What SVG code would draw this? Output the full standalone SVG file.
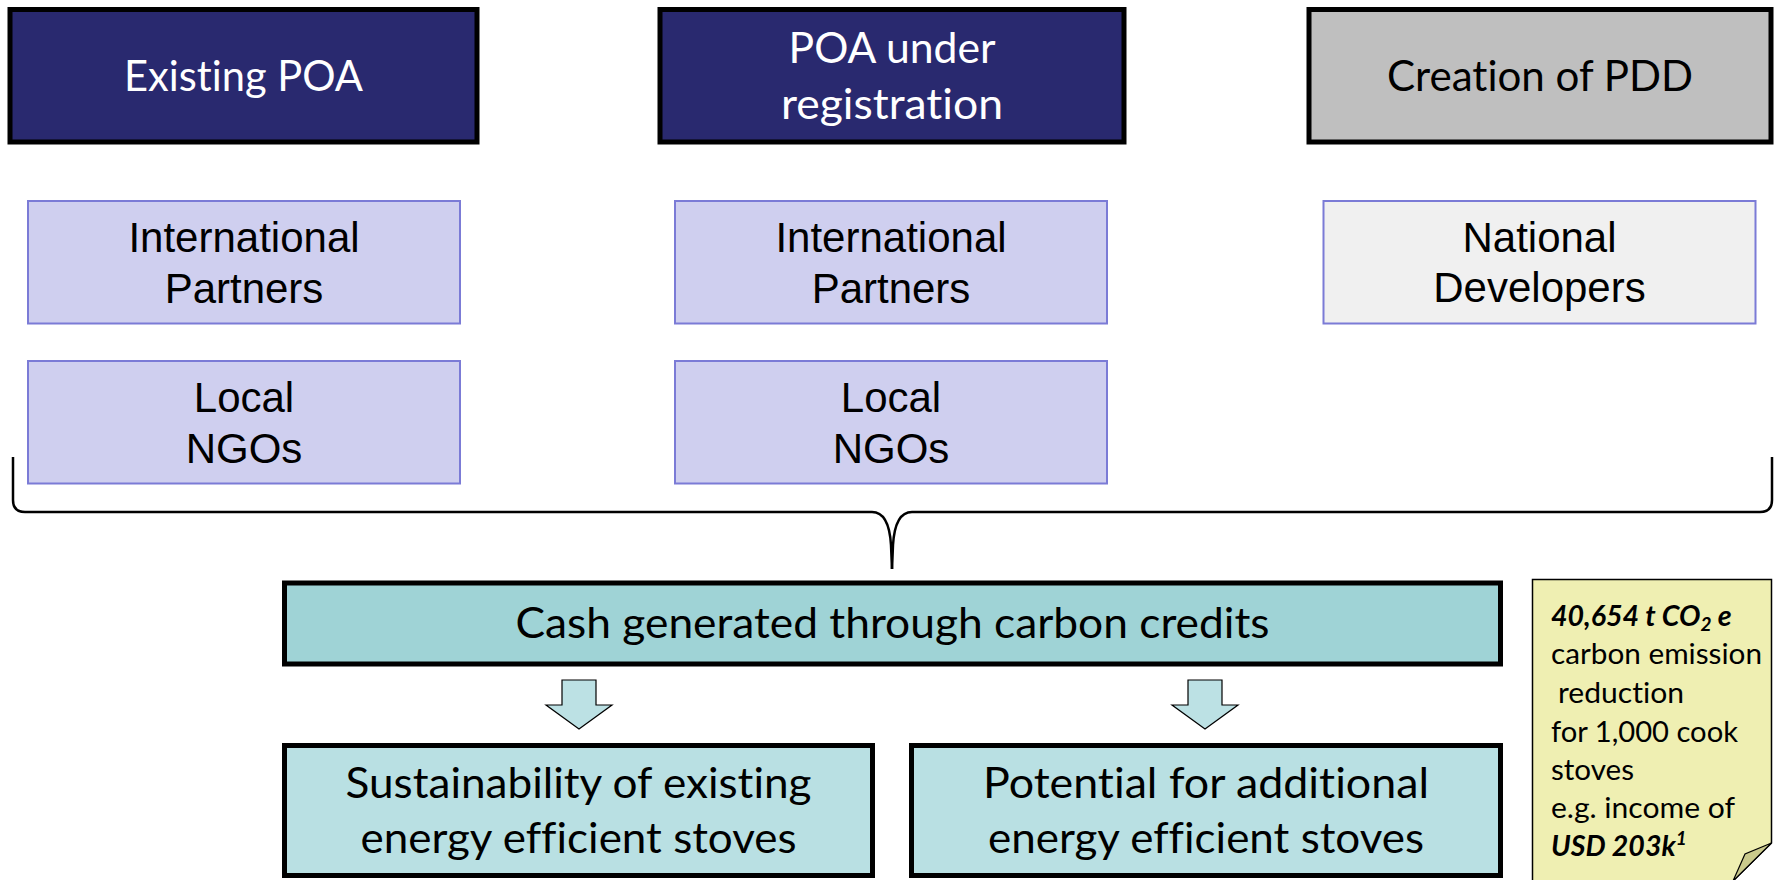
<svg xmlns="http://www.w3.org/2000/svg" width="1775" height="880" viewBox="0 0 1775 880">
<style>
.head{fill:#29296F;stroke:#000;stroke-width:5}
.grey{fill:#BFBFBF;stroke:#000;stroke-width:5}
.lav{fill:#CFCFEF;stroke:#7B7BD6;stroke-width:2}
.pale{fill:#F0F0F0;stroke:#7B7BD6;stroke-width:2}
.teal{fill:#9FD3D6;stroke:#000;stroke-width:5}
.lteal{fill:#B9E0E3;stroke:#000;stroke-width:5}
text{font-variant-ligatures:none;font-feature-settings:"liga" 0,"clig" 0}
.cal{font-family:Lato,"Open Sans","Liberation Sans",sans-serif;font-size:42px;text-anchor:middle}
.ari{font-family:"Liberation Sans",Arial,sans-serif;font-size:42px;text-anchor:middle;fill:#000}
.note{font-family:Lato,"Open Sans","Liberation Sans",sans-serif;font-size:28.5px;fill:#000}
.w{fill:#fff}
.k{fill:#000}
.arrow{fill:#BCE1E4;stroke:#000;stroke-width:1.2}
.brace{fill:none;stroke:#000;stroke-width:2.5}
</style>

<g id="existing-poa">
<rect class="head" x="10" y="9.5" width="467" height="132.5"/>
<text class="cal w" x="243.5" y="91" textLength="239" lengthAdjust="spacingAndGlyphs">Existing POA</text>
</g>
<g id="poa-under-registration">
<rect class="head" x="660" y="9.5" width="464" height="132.5"/>
<text class="cal w" x="892" y="63" textLength="207" lengthAdjust="spacingAndGlyphs">POA under</text>
<text class="cal w" x="892" y="119" textLength="222" lengthAdjust="spacingAndGlyphs">registration</text>
</g>
<g id="creation-of-pdd">
<rect class="grey" x="1309" y="9.5" width="462" height="132.5"/>
<text class="cal k" x="1540" y="91" textLength="306" lengthAdjust="spacingAndGlyphs">Creation of PDD</text>
</g>

<g id="intl-partners-1">
<rect class="lav" x="28" y="201" width="432" height="122.5"/>
<text class="ari" x="244" y="252">International</text>
<text class="ari" x="244" y="303">Partners</text>
</g>
<g id="local-ngos-1">
<rect class="lav" x="28" y="361" width="432" height="122.5"/>
<text class="ari" x="244" y="412">Local</text>
<text class="ari" x="244" y="463">NGOs</text>
</g>
<g id="intl-partners-2">
<rect class="lav" x="675" y="201" width="432" height="122.5"/>
<text class="ari" x="891" y="252">International</text>
<text class="ari" x="891" y="303">Partners</text>
</g>
<g id="local-ngos-2">
<rect class="lav" x="675" y="361" width="432" height="122.5"/>
<text class="ari" x="891" y="412">Local</text>
<text class="ari" x="891" y="463">NGOs</text>
</g>
<g id="national-developers">
<rect class="pale" x="1323.5" y="201" width="432" height="122.5"/>
<text class="ari" x="1539.5" y="252">National</text>
<text class="ari" x="1539.5" y="302">Developers</text>
</g>

<g id="connectors">
<path class="brace" d="M13,457 L13,500 Q13,512 25,512 L872,512 Q889,512 891,545 L892,569"/>
<path class="brace" d="M1772,457 L1772,500 Q1772,512 1760,512 L912,512 Q895,512 893,545 L892,569"/>
<path class="arrow" d="M562,680 L596,680 L596,705 L612,705 L579,729 L546,705 L562,705 Z"/>
<path class="arrow" d="M1188,680 L1222,680 L1222,705 L1238,705 L1205,729 L1172,705 L1188,705 Z"/>
</g>

<g id="cash">
<rect class="teal" x="284.5" y="583" width="1216" height="81"/>
<text class="cal k" x="892.5" y="638" font-size="42.5" textLength="754" lengthAdjust="spacingAndGlyphs">Cash generated through carbon credits</text>
</g>

<g id="sustainability">
<rect class="lteal" x="284.5" y="745.5" width="588" height="130"/>
<text class="cal k" x="578.5" y="798" font-size="42.5" textLength="466" lengthAdjust="spacingAndGlyphs">Sustainability of existing</text>
<text class="cal k" x="578.5" y="853" font-size="42.5" textLength="436" lengthAdjust="spacingAndGlyphs">energy efficient stoves</text>
</g>
<g id="potential">
<rect class="lteal" x="911.5" y="745.5" width="589" height="130"/>
<text class="cal k" x="1206" y="798" font-size="42.5" textLength="446" lengthAdjust="spacingAndGlyphs">Potential for additional</text>
<text class="cal k" x="1206" y="853" font-size="42.5" textLength="436" lengthAdjust="spacingAndGlyphs">energy efficient stoves</text>
</g>

<g id="note">
<path d="M1532.5,579.5 L1771.5,579.5 L1771.5,843 L1733,881 L1532.5,881 Z" fill="#EFEFB2" stroke="#000" stroke-width="1.5"/>
<path d="M1771.5,843 L1745,854 L1733,881 Z" fill="#CACA8C" stroke="#000" stroke-width="1.2"/>
<text class="note" x="1551" y="626" font-weight="bold" font-style="italic">40,654 t CO<tspan font-size="19" dy="5">2</tspan><tspan dy="-5"> e</tspan></text>
<text class="note" x="1551" y="664" textLength="211" lengthAdjust="spacingAndGlyphs">carbon emission</text>
<text class="note" x="1558" y="703" textLength="126" lengthAdjust="spacingAndGlyphs">reduction</text>
<text class="note" x="1551" y="742" textLength="187" lengthAdjust="spacingAndGlyphs">for 1,000 cook</text>
<text class="note" x="1551" y="780" textLength="83" lengthAdjust="spacingAndGlyphs">stoves</text>
<text class="note" x="1551" y="818" textLength="184" lengthAdjust="spacingAndGlyphs">e.g. income of</text>
<text class="note" x="1551" y="856" font-weight="bold" font-style="italic">USD 203k<tspan font-size="19" dy="-11">1</tspan></text>
</g>
</svg>
